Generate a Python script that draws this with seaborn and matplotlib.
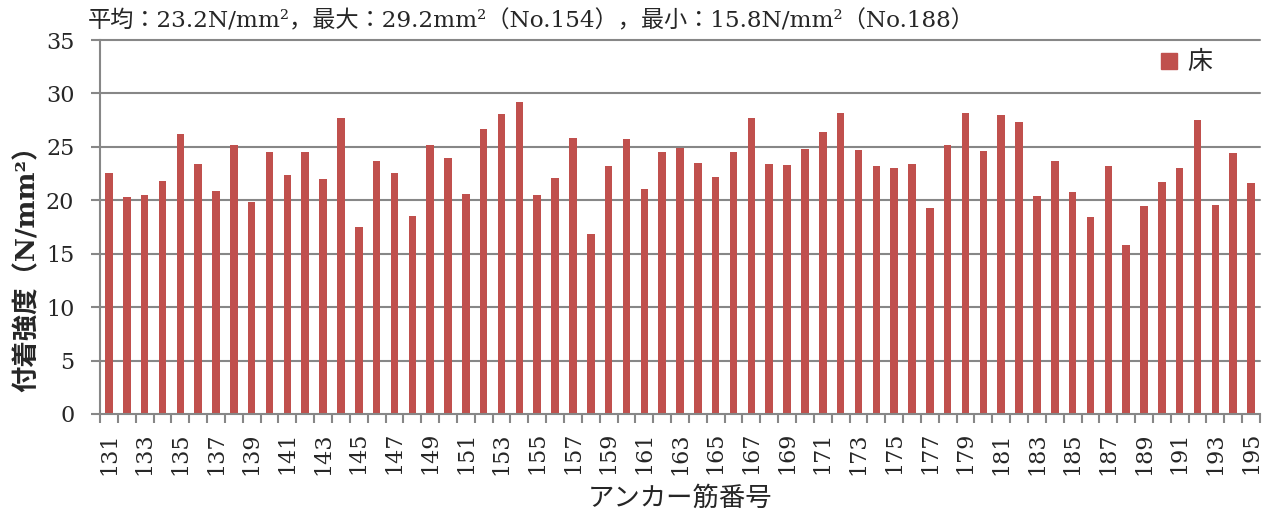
import numpy as np
import pandas as pd
import matplotlib
matplotlib.use("Agg")
import matplotlib.pyplot as plt
import seaborn as sns

# Anchor bar numbers and bond strength (N/mm2), floor slab
anchor_no = list(range(131, 196))
strength = [
    22.6, 20.3, 20.5, 21.8, 26.2, 23.4, 20.9, 25.2, 19.8, 24.5,
    22.4, 24.5, 22.0, 27.7, 17.5, 23.7, 22.6, 18.5, 25.2, 24.0,
    20.6, 26.7, 28.1, 29.2, 20.5, 22.1, 25.8, 16.8, 23.2, 25.7,
    21.1, 24.5, 24.9, 23.5, 22.2, 24.5, 27.7, 23.4, 23.3, 24.8,
    26.4, 28.2, 24.7, 23.2, 23.0, 23.4, 19.3, 25.2, 28.2, 24.6,
    28.0, 27.3, 20.4, 23.7, 20.8, 18.4, 23.2, 15.8, 19.5, 21.7,
    23.0, 27.5, 19.6, 24.4, 21.6,
]
series_name = "床"
summary = "平均：23.2N/mm²，最大：29.2mm²（No.154），最小：15.8N/mm²（No.188）"
x_title = "アンカー筋番号"
y_title = "付着強度（N/mm²）"
y_ticks = [0, 5, 10, 15, 20, 25, 30, 35]

sns.set_theme(style="white")
plt.rcParams["font.family"] = ["DejaVu Serif", "Noto Sans CJK JP"]

df = pd.DataFrame({"no": [str(n) for n in anchor_no], "value": strength})

fig = plt.figure(figsize=(12.71, 5.14), dpi=100)
ax = fig.add_axes([100 / 1271, 100 / 514, 1160 / 1271, 374 / 514])

bar_c = "#C0504D"
grid_c = "#878787"
sns.barplot(data=df, x="no", y="value", color=bar_c, width=0.42,
            saturation=1, linewidth=0, ax=ax, zorder=3)

ax.set_ylim(0, 35)
ax.set_xlim(-0.5, len(anchor_no) - 0.5)
ax.set_yticks(y_ticks)
ax.set_yticklabels([str(t) for t in y_ticks], fontsize=16)
for t in y_ticks[1:]:
    ax.axhline(t, color=grid_c, lw=1.5, zorder=1, clip_on=False)

# category labels every other bar, tick marks on category boundaries
ax.set_xticks(range(0, len(anchor_no), 2))
ax.set_xticklabels([str(n) for n in anchor_no[::2]], rotation=90, fontsize=16)
ax.set_xticks(np.arange(-0.5, len(anchor_no)), minor=True)
ax.tick_params(axis="x", which="major", length=0, pad=13, bottom=True)
ax.tick_params(axis="x", which="minor", length=6.5, width=1.5, color=grid_c,
               direction="out", bottom=True)
ax.tick_params(axis="y", length=6.5, width=1.5, color=grid_c, direction="out",
               left=True, pad=12)

for s in ["top", "right"]:
    ax.spines[s].set_visible(False)
for s in ["left", "bottom"]:
    ax.spines[s].set_color(grid_c)
    ax.spines[s].set_linewidth(1.5)
    ax.spines[s].set_zorder(4)

ax.set_xlabel(x_title, fontsize=19)
ax.xaxis.set_label_coords(0.5, (414 - 486) / 374)
ax.set_ylabel(y_title, fontsize=19, fontweight="bold")
ax.yaxis.set_label_coords((40 - 100) / 1160, (414 - 262) / 374)

handles = [plt.Line2D([], [], marker="s", color=bar_c, linestyle="none", markersize=11)]
ax.legend(handles, [series_name], loc="upper right", bbox_to_anchor=(0.978, 1.03),
          frameon=False, fontsize=18, handletextpad=0.25, handlelength=0.9)

fig.text(88 / 1271, 1 - 21 / 514, summary, fontsize=16.7, ha="left", va="center")

fig.savefig("out.png", dpi=100)
